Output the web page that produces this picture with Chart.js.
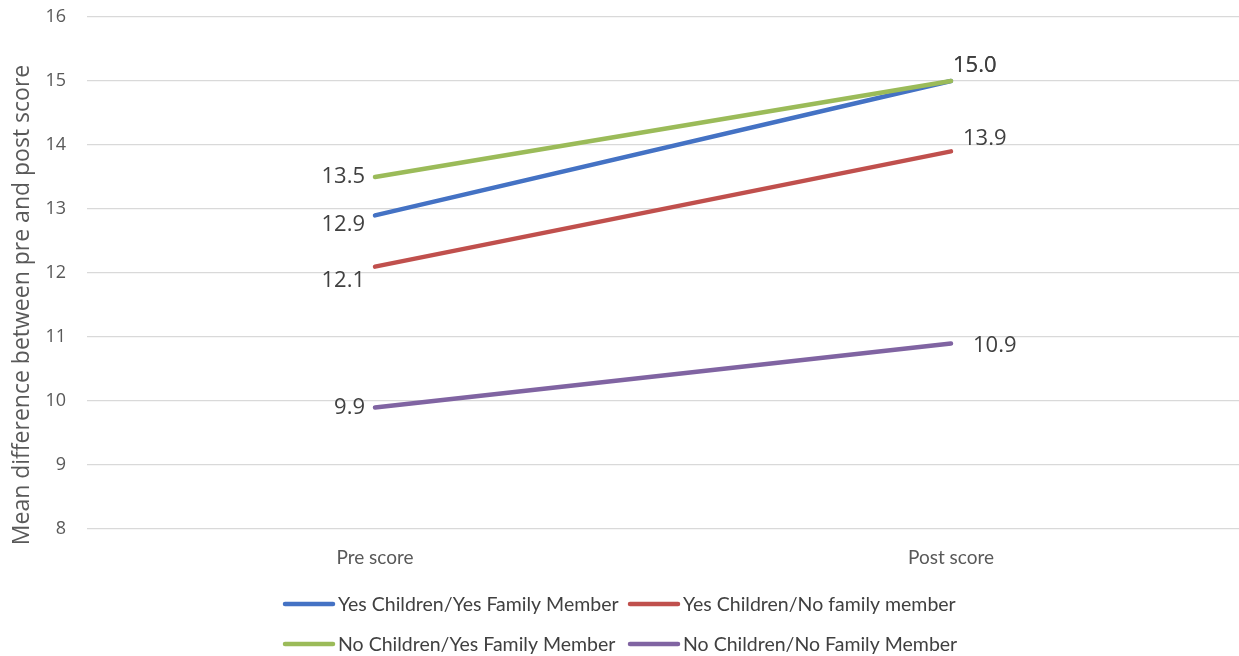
<!DOCTYPE html>
<html>
<head>
<meta charset="utf-8">
<script src="https://cdn.jsdelivr.net/npm/chart.js@4.4.1/dist/chart.umd.min.js"></script>
<style>
html,body{margin:0;padding:0;background:#fff;}
#wrap{width:1239px;height:656px;position:relative;}
</style>
</head>
<body>
<div id="wrap"><canvas id="c" width="1239" height="656"></canvas></div>
<script>
const categories = ["Pre score", "Post score"];
const seriesNames = [
  "Yes Children/Yes Family Member",
  "Yes Children/No family member",
  "No Children/Yes Family Member",
  "No Children/No Family Member"
];
const yesChildrenYesFamily = [12.9, 15.0];
const yesChildrenNoFamily = [12.1, 13.9];
const noChildrenYesFamily = [13.5, 15.0];
const noChildrenNoFamily = [9.9, 10.9];
const yAxisTitle = "Mean difference between pre and post score";

const colors = ["#4472C4", "#C0504D", "#9BBB59", "#8064A2"];
// label placement per series: [pre dx, pre dy, post dx, post dy]
const labelPlacement = [
  [-10, 9, 2, -15],
  [-10, 14, 12, -13],
  [-10, 0, 2, -15],
  [-10, 0, 22, 2]
];

const valuesList = [yesChildrenYesFamily, yesChildrenNoFamily, noChildrenYesFamily, noChildrenNoFamily];

const dataLabelPlugin = {
  id: 'dataLabels',
  afterDatasetsDraw(chart) {
    const ctx = chart.ctx;
    ctx.save();
    ctx.font = '22px "Open Sans", sans-serif';
    ctx.fillStyle = '#404040';
    ctx.textBaseline = 'middle';
    chart.data.datasets.forEach((ds, i) => {
      const meta = chart.getDatasetMeta(i);
      meta.data.forEach((pt, j) => {
        const p = labelPlacement[i];
        const txt = ds.data[j].toFixed(1);
        if (j === 0) {
          ctx.textAlign = 'right';
          ctx.fillText(txt, pt.x + p[0], pt.y + p[1]);
        } else {
          ctx.textAlign = 'left';
          ctx.fillText(txt, pt.x + p[2], pt.y + p[3]);
        }
      });
    });
    ctx.restore();
  }
};

const yTitlePlugin = {
  id: 'yTitle',
  afterDraw(chart) {
    const ctx = chart.ctx;
    ctx.save();
    ctx.font = '23px "Open Sans", sans-serif';
    ctx.fillStyle = '#595959';
    ctx.textAlign = 'center';
    ctx.textBaseline = 'middle';
    ctx.translate(22, 305);
    ctx.rotate(-Math.PI / 2);
    ctx.fillText(yAxisTitle, 0, 0);
    ctx.restore();
  }
};

const legendPlugin = {
  id: 'customLegend',
  afterDraw(chart) {
    const ctx = chart.ctx;
    ctx.save();
    ctx.font = '19.5px Lato, "Liberation Sans", sans-serif';
    ctx.fillStyle = '#404040';
    ctx.textBaseline = 'middle';
    ctx.textAlign = 'left';
    const cols = [283, 628];
    const rows = [604, 644];
    chart.data.datasets.forEach((ds, i) => {
      const x = cols[i % 2];
      const y = rows[Math.floor(i / 2)];
      ctx.strokeStyle = ds.borderColor;
      ctx.lineWidth = 4.5;
      ctx.lineCap = 'round';
      ctx.beginPath();
      ctx.moveTo(x + 2, y);
      ctx.lineTo(x + 50, y);
      ctx.stroke();
      ctx.fillText(ds.label, x + 55, y + 1);
    });
    ctx.restore();
  }
};

new Chart(document.getElementById('c'), {
  type: 'line',
  data: {
    labels: categories,
    datasets: valuesList.map((vals, i) => ({
      label: seriesNames[i],
      data: vals,
      borderColor: colors[i],
      backgroundColor: colors[i],
      borderWidth: 4.5,
      borderCapStyle: 'round',
      pointRadius: 0,
      tension: 0,
      order: 4 - i
    }))
  },
  options: {
    responsive: false,
    animation: false,
    layout: { padding: { top: 17, right: 0, bottom: 77, left: 0 } },
    plugins: {
      legend: { display: false },
      tooltip: { enabled: false }
    },
    scales: {
      x: {
        offset: true,
        grid: { display: false, drawTicks: false },
        border: { display: false },
        ticks: { color: '#595959', font: { family: 'Lato, "Liberation Sans", sans-serif', size: 19 }, padding: 17 },
        afterFit(s) { s.height = 50; }
      },
      y: {
        min: 8, max: 16,
        ticks: { stepSize: 1, color: '#595959', font: { family: '"Open Sans", sans-serif', size: 18 }, padding: 21 },
        grid: { color: '#d9d9d9', lineWidth: 1.3, drawTicks: false },
        border: { display: false },
        title: { display: false },
        afterFit(s) { s.width = 87; s.paddingTop = 0; s.paddingBottom = 0; }
      }
    }
  },
  plugins: [dataLabelPlugin, yTitlePlugin, legendPlugin]
});
</script>
</body>
</html>
